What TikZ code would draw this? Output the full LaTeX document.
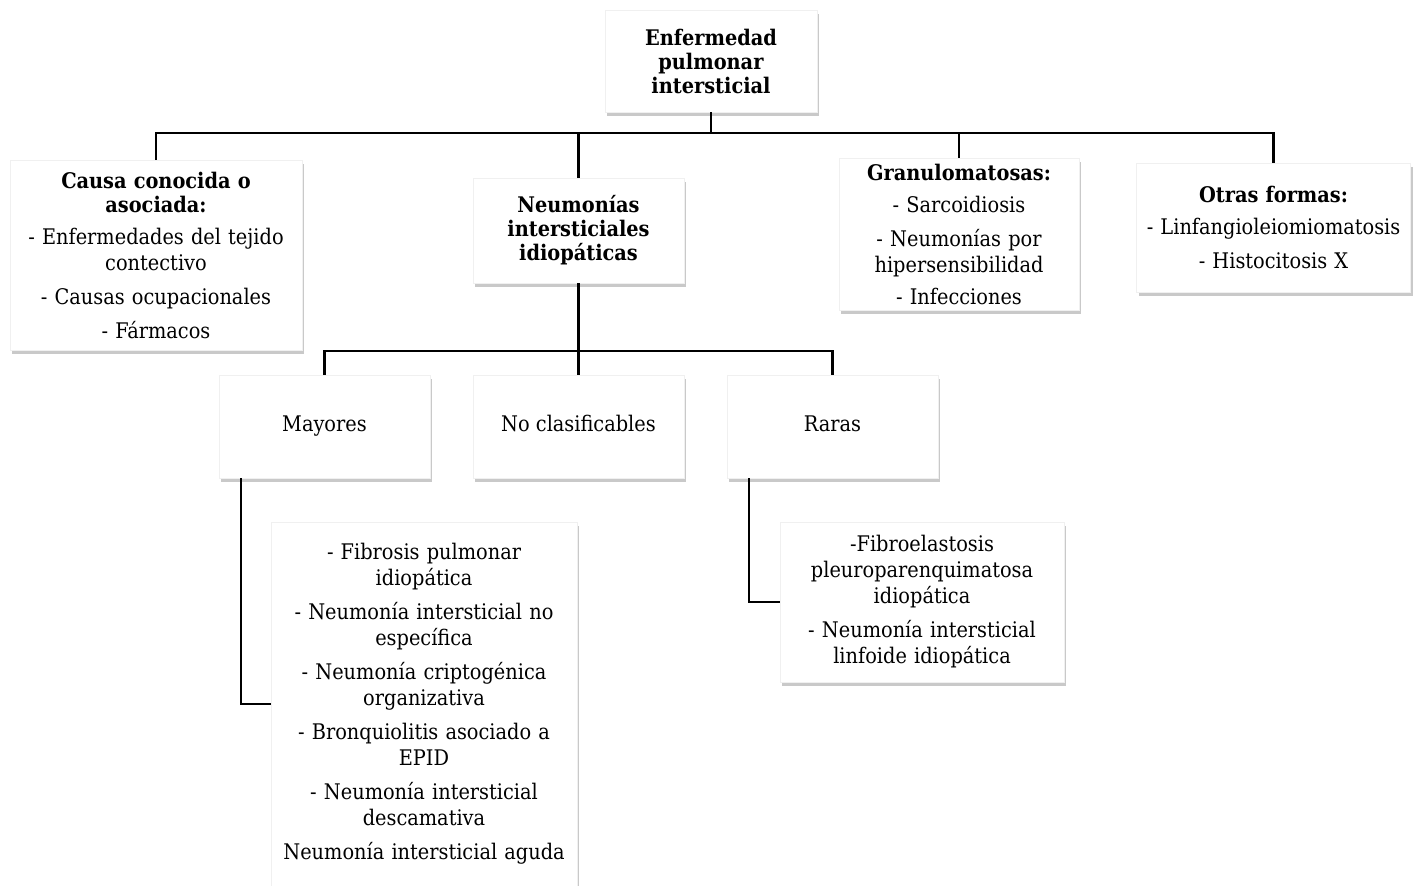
\documentclass[tikz,border=0pt]{standalone}
\usepackage{fontspec}
\setmainfont{DejaVu Serif Condensed}
\usetikzlibrary{shadows}
\begin{document}
\begin{tikzpicture}[x=1pt,y=1pt,
  box/.style={rectangle, fill=white, draw=black!6, line width=0.4pt, align=center,
    inner sep=2pt, font=\fontsize{21.5}{26}\selectfont,
    drop shadow={shadow xshift=2pt, shadow yshift=-3.5pt, opacity=0.35, fill=black!60}},
  small/.style={box, minimum width=211, minimum height=103, text height=15pt, text depth=5pt},
  conn/.style={draw=black, line width=2.2pt}]
\useasboundingbox (0,0) rectangle (1419,-886);
\fill[white] (0,0) rectangle (1419,-886);

\node[box, minimum width=212, minimum height=102, text width=205] (top) at (711,-61)
  {\textbf{Enfermedad}\\[-2pt]\textbf{pulmonar}\\[-2pt]\textbf{intersticial}};

\node[box, minimum width=292, minimum height=190, text width=288] (causa) at (156,-255)
  {\textbf{Causa conocida o}\\[-2pt]\textbf{asociada:}\\[6pt]- Enfermedades del tejido\\contectivo\\[8pt]- Causas ocupacionales\\[8pt]- Fármacos};

\node[box, minimum width=211, minimum height=105, text width=205] (neum) at (578.5,-230.5)
  {\textbf{Neumonías}\\[-2pt]\textbf{intersticiales}\\[-2pt]\textbf{idiopáticas}};

\node[box, minimum width=240, minimum height=152, text width=236] (gran) at (959,-234)
  {\textbf{Granulomatosas:}\\[6pt]- Sarcoidiosis\\[8pt]- Neumonías por\\hipersensibilidad\\[6pt]- Infecciones};

\node[box, minimum width=273, minimum height=129, text width=270] (otras) at (1273.5,-227.5)
  {\textbf{Otras formas:}\\[6pt]- Linfangioleiomiomatosis\\[8pt]- Histocitosis X};

\node[small] (mayores) at (324.5,-426.5) {Mayores};
\node[small] (nocl) at (578.5,-426.5) {No clasificables};
\node[small] (raras) at (832.5,-426.5) {Raras};

\node[box, minimum width=306, minimum height=364, text width=302] (listM) at (424,-704)
  {- Fibrosis pulmonar\\idiopática\\[8pt]- Neumonía intersticial no\\específica\\[8pt]- Neumonía criptogénica\\organizativa\\[8pt]- Bronquiolitis asociado a\\EPID\\[8pt]- Neumonía intersticial\\descamativa\\[8pt]Neumonía intersticial aguda};

\node[box, minimum width=284, minimum height=160, text width=280] (listR) at (922,-602)
  {-Fibroelastosis\\pleuroparenquimatosa\\idiopática\\[8pt]- Neumonía intersticial\\linfoide idiopática};

\coordinate (bus1) at (711,-133);
\coordinate (bus2) at (578.5,-351);

\draw[conn] (top.south) -- (bus1);
\draw[conn] (bus1) -| (causa.north);
\draw[conn] (bus1) -| (neum.north);
\draw[conn] (bus1) -| (gran.north);
\draw[conn] (bus1) -| (otras.north);

\draw[conn] (neum.south) -- (bus2);
\draw[conn] (bus2) -| (mayores.north);
\draw[conn] (bus2) -| (nocl.north);
\draw[conn] (bus2) -| (raras.north);

\draw[conn] ([xshift=22pt]mayores.south west) |- (listM.west);
\draw[conn] ([xshift=22pt]raras.south west) |- (listR.west);
\end{tikzpicture}
\end{document}
